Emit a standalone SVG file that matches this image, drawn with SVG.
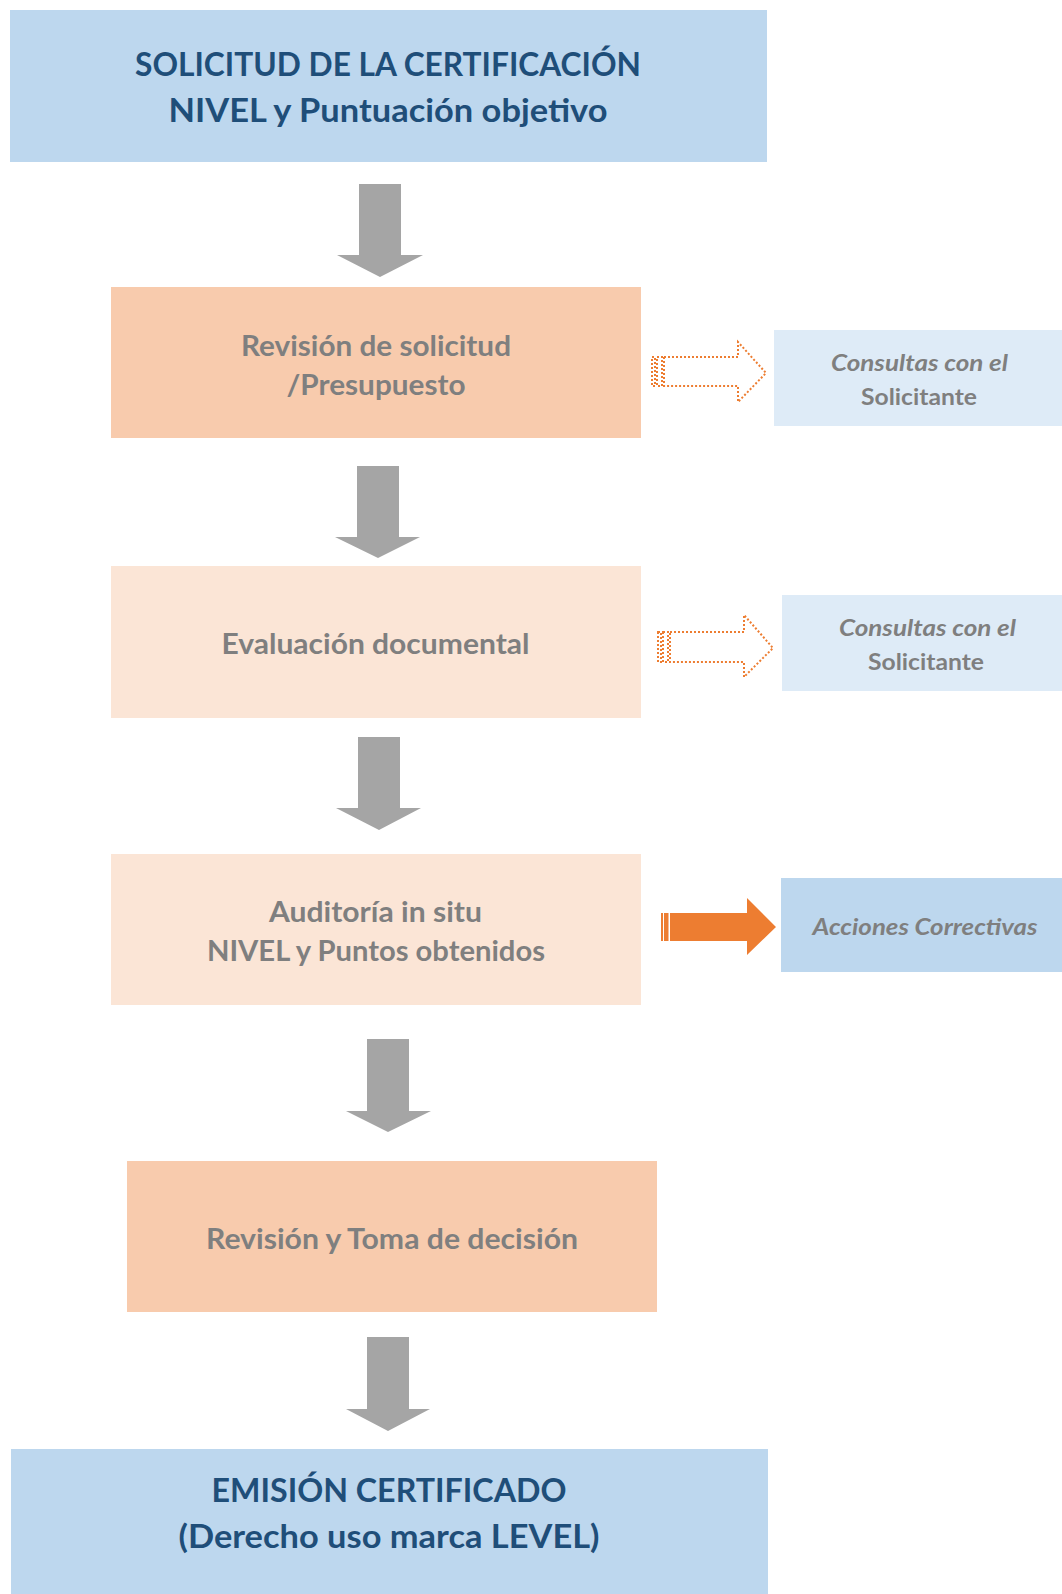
<svg xmlns="http://www.w3.org/2000/svg" width="1062" height="1594" viewBox="0 0 1062 1594">
<style>
.blue{fill:#BDD7EE}
.lblue{fill:#DEEBF7}
.peach{fill:#F8CBAD}
.lpeach{fill:#FBE5D6}
.gray{fill:#A5A5A5}
.title{font-family:Lato,"Open Sans",sans-serif;font-weight:700;font-size:32px;fill:#1F4E79;text-anchor:middle}
.node{font-family:Lato,"Open Sans",sans-serif;font-weight:700;font-size:29px;fill:#7F7F7F;text-anchor:middle}
.side{font-family:Lato,"Open Sans",sans-serif;font-weight:700;font-size:23px;fill:#7F7F7F;text-anchor:middle}
.it{font-style:italic}
.dot{fill:none;stroke:#ED7D31;stroke-width:2;stroke-dasharray:2 2}
.solid{fill:#ED7D31}
</style>
<rect width="1062" height="1594" fill="#FFFFFF"/>
<g id="n-solicitud">
<rect class="blue" x="10" y="10" width="757" height="152"/>
<text class="title" x="388" y="76" textLength="506" lengthAdjust="spacingAndGlyphs">SOLICITUD DE LA CERTIFICACIÓN</text>
<text class="title" x="388" y="122" textLength="439" lengthAdjust="spacingAndGlyphs">NIVEL y Puntuación objetivo</text>
</g>
<g id="n-revision">
<rect class="peach" x="111" y="287" width="530" height="151"/>
<text class="node" x="376" y="356" textLength="270" lengthAdjust="spacingAndGlyphs">Revisión de solicitud</text>
<text class="node" x="376" y="395" textLength="179" lengthAdjust="spacingAndGlyphs">/Presupuesto</text>
</g>
<g id="n-consultas1">
<rect class="lblue" x="774" y="330" width="288" height="96"/>
<text class="side it" x="919.5" y="371" textLength="177" lengthAdjust="spacingAndGlyphs">Consultas con el</text>
<text class="side" x="919" y="405" textLength="116" lengthAdjust="spacingAndGlyphs">Solicitante</text>
</g>
<g id="n-evaluacion">
<rect class="lpeach" x="111" y="566" width="530" height="152"/>
<text class="node" x="375.5" y="654" textLength="308" lengthAdjust="spacingAndGlyphs">Evaluación documental</text>
</g>
<g id="n-consultas2">
<rect class="lblue" x="782" y="595" width="280" height="96"/>
<text class="side it" x="927.5" y="636" textLength="177" lengthAdjust="spacingAndGlyphs">Consultas con el</text>
<text class="side" x="926" y="670" textLength="116" lengthAdjust="spacingAndGlyphs">Solicitante</text>
</g>
<g id="n-auditoria">
<rect class="lpeach" x="111" y="854" width="530" height="151"/>
<text class="node" x="375.5" y="922" textLength="213" lengthAdjust="spacingAndGlyphs">Auditoría in situ</text>
<text class="node" x="376" y="961" textLength="338" lengthAdjust="spacingAndGlyphs">NIVEL y Puntos obtenidos</text>
</g>
<g id="n-acciones">
<rect class="blue" x="781" y="878" width="281" height="94"/>
<text class="side it" x="925" y="935" textLength="225" lengthAdjust="spacingAndGlyphs">Acciones Correctivas</text>
</g>
<g id="n-decision">
<rect class="peach" x="127" y="1161" width="530" height="151"/>
<text class="node" x="392" y="1249" textLength="372" lengthAdjust="spacingAndGlyphs">Revisión y Toma de decisión</text>
</g>
<g id="n-emision">
<rect class="blue" x="11" y="1449" width="757" height="145"/>
<text class="title" x="389" y="1502" textLength="355" lengthAdjust="spacingAndGlyphs">EMISIÓN CERTIFICADO</text>
<text class="title" x="389" y="1548" textLength="421" lengthAdjust="spacingAndGlyphs">(Derecho uso marca LEVEL)</text>
</g>
<g id="connectors">
<polygon class="gray" points="359,184 401,184 401,255 423,255 380,277 337,255 359,255"/>
<polygon class="gray" points="357,466 399,466 399,537 420,537 378,558 335,537 357,537"/>
<polygon class="gray" points="358,737 400,737 400,808 421,808 379,830 336,808 358,808"/>
<polygon class="gray" points="367,1039 409,1039 409,1111 431,1111 388,1132 346,1111 367,1111"/>
<polygon class="gray" points="367,1337 409,1337 409,1409 430,1409 388,1431 346,1409 367,1409"/>
<g id="c-dotted1">
<rect class="dot" x="652" y="357" width="3" height="29"/>
<rect class="dot" x="657" y="357" width="5" height="29"/>
<polygon class="dot" points="664,357 738,357 738,342 766,373 738,402 738,386 664,386"/>
</g>
<g id="c-dotted2">
<rect class="dot" x="658" y="632" width="3" height="30"/>
<rect class="dot" x="663" y="632" width="5" height="30"/>
<polygon class="dot" points="670,632 744,632 744,615 773,648 744,677 744,662 670,662"/>
</g>
<g id="c-solid">
<rect class="solid" x="661" y="913" width="2" height="28"/>
<rect class="solid" x="664" y="913" width="4.5" height="28"/>
<polygon class="solid" points="670,913 747,913 747,898 776,927 747,955 747,941 670,941"/>
</g>
</g>
</svg>
